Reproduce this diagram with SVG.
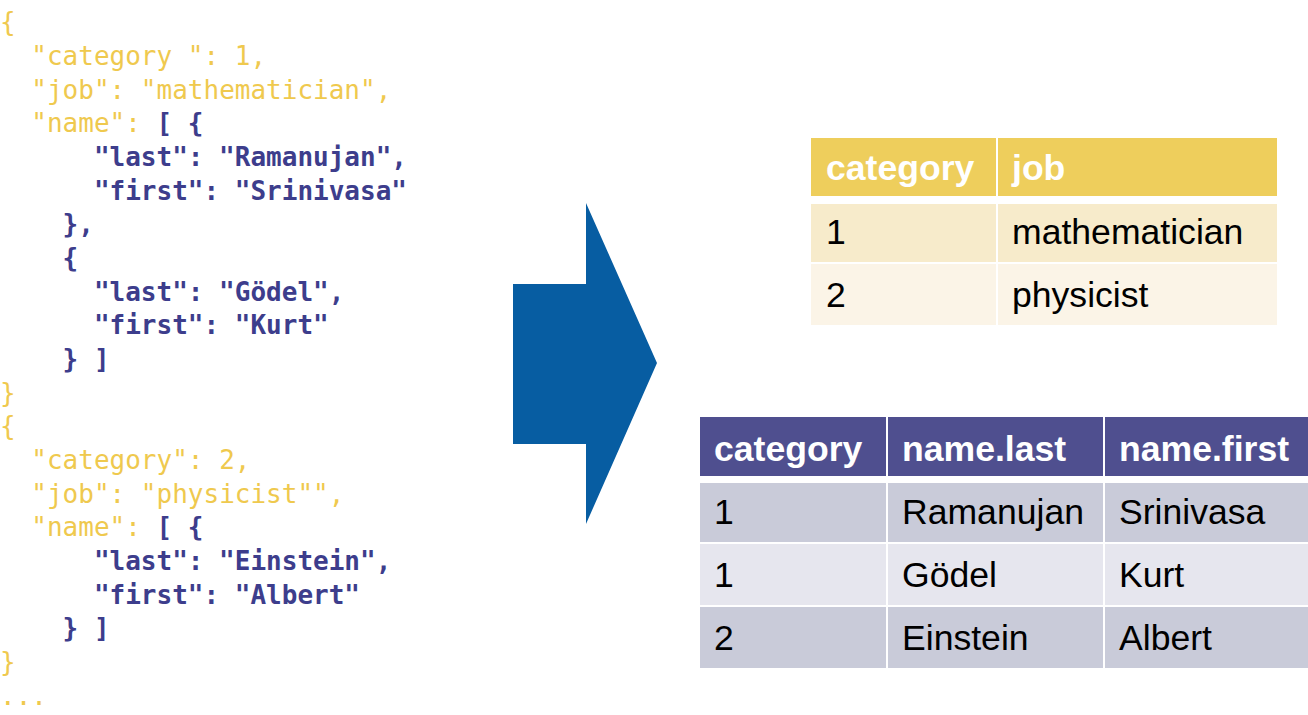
<svg xmlns="http://www.w3.org/2000/svg" width="1308" height="715" viewBox="0 0 1308 715">
<style>
.code{font-family:"DejaVu Sans Mono","Liberation Mono",monospace;font-size:26px;white-space:pre}
.y{fill:#EFC94E}
.b{fill:#3D3D8C;font-weight:bold}
.th{font-family:"Liberation Sans",Arial,sans-serif;font-size:35.6px;font-weight:bold;fill:#FFFFFF}
.td{font-family:"Liberation Sans",Arial,sans-serif;font-size:35.6px;fill:#000000}
.hy{fill:#EECE5C}
.r1y{fill:#F7EBCB}
.r2y{fill:#FBF4E7}
.hp{fill:#4F4F8F}
.r1p{fill:#C9CBD9}
.r2p{fill:#E6E6EE}
</style>
<rect width="1308" height="715" fill="#FFFFFF"/>
<g id="json">
<text class="code y" x="0" y="31">{</text>
<text class="code y" x="31.3" y="65">"category ": 1,</text>
<text class="code y" x="31.3" y="98.5">"job": "mathematician",</text>
<text class="code" x="31.3" y="132"><tspan class="y">"name": </tspan><tspan class="b">[ {</tspan></text>
<text class="code b" x="93.9" y="166">"last": "Ramanujan",</text>
<text class="code b" x="93.9" y="199.5">"first": "Srinivasa"</text>
<text class="code b" x="62.6" y="233">},</text>
<text class="code b" x="62.6" y="267">{</text>
<text class="code b" x="93.9" y="300.5">"last": "Gödel",</text>
<text class="code b" x="93.9" y="334">"first": "Kurt"</text>
<text class="code b" x="62.6" y="368">} ]</text>
<text class="code y" x="0" y="401.5">}</text>
<text class="code y" x="0" y="435">{</text>
<text class="code y" x="31.3" y="469">"category": 2,</text>
<text class="code y" x="31.3" y="502.5">"job": "physicist"",</text>
<text class="code" x="31.3" y="536"><tspan class="y">"name": </tspan><tspan class="b">[ {</tspan></text>
<text class="code b" x="93.9" y="570">"last": "Einstein",</text>
<text class="code b" x="93.9" y="603.5">"first": "Albert"</text>
<text class="code b" x="62.6" y="637">} ]</text>
<text class="code y" x="0" y="671">}</text>
<text class="code y" x="0" y="704.5">...</text>
</g>
<g id="connectors">
<polygon points="513,284 586,284 586,203 657,363 586,524 586,444 513,444" fill="#075DA2"/>
</g>
<g id="table-jobs">
<rect class="hy" x="811" y="138" width="185" height="58"/>
<rect class="hy" x="998" y="138" width="279" height="58"/>
<rect class="r1y" x="811" y="204" width="185" height="58"/>
<rect class="r1y" x="998" y="204" width="279" height="58"/>
<rect class="r2y" x="811" y="264" width="185" height="61"/>
<rect class="r2y" x="998" y="264" width="279" height="61"/>
<text class="th" x="826" y="180">category</text>
<text class="th" x="1012" y="180">job</text>
<text class="td" x="826" y="244">1</text>
<text class="td" x="1012" y="244">mathematician</text>
<text class="td" x="826" y="307">2</text>
<text class="td" x="1012" y="307">physicist</text>
</g>
<g id="table-names">
<rect class="hp" x="700" y="417" width="186" height="59"/>
<rect class="hp" x="888" y="417" width="215" height="59"/>
<rect class="hp" x="1105" y="417" width="203" height="59"/>
<rect class="r1p" x="700" y="483" width="186" height="59"/>
<rect class="r1p" x="888" y="483" width="215" height="59"/>
<rect class="r1p" x="1105" y="483" width="203" height="59"/>
<rect class="r2p" x="700" y="544" width="186" height="61"/>
<rect class="r2p" x="888" y="544" width="215" height="61"/>
<rect class="r2p" x="1105" y="544" width="203" height="61"/>
<rect class="r1p" x="700" y="607" width="186" height="61"/>
<rect class="r1p" x="888" y="607" width="215" height="61"/>
<rect class="r1p" x="1105" y="607" width="203" height="61"/>
<text class="th" x="714" y="461">category</text>
<text class="th" x="902" y="461">name.last</text>
<text class="th" x="1119" y="461">name.first</text>
<text class="td" x="714" y="524">1</text>
<text class="td" x="902" y="524">Ramanujan</text>
<text class="td" x="1119" y="524">Srinivasa</text>
<text class="td" x="714" y="587">1</text>
<text class="td" x="902" y="587">Gödel</text>
<text class="td" x="1119" y="587">Kurt</text>
<text class="td" x="714" y="650">2</text>
<text class="td" x="902" y="650">Einstein</text>
<text class="td" x="1119" y="650">Albert</text>
</g>
</svg>
